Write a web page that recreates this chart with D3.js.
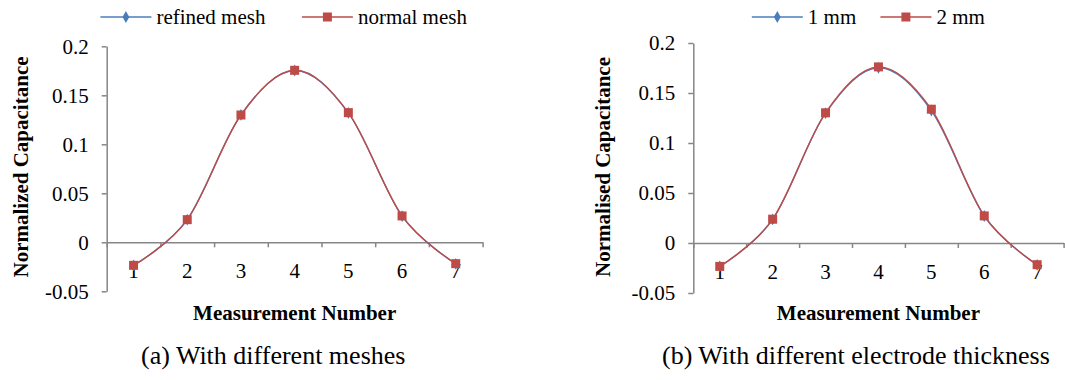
<!DOCTYPE html>
<html>
<head>
<meta charset="utf-8">
<script src="https://cdn.jsdelivr.net/npm/d3@7"></script>
<style>
  html, body { margin: 0; padding: 0; background: #fff; }
  svg { display: block; }
  text { font-family: "Liberation Serif", "Times New Roman", serif; fill: #000; }
</style>
</head>
<body>
<svg id="chart" width="1065" height="380"></svg>
<script>
// ---- data ----
const categories = ["1", "2", "3", "4", "5", "6", "7"];
const refinedMesh = [-0.0236, 0.0232, 0.1300, 0.1753, 0.1320, 0.0268, -0.0219];
const normalMesh  = [-0.0235, 0.0231, 0.1299, 0.1755, 0.1323, 0.0269, -0.0218];
const thickness1mm = [-0.0234, 0.0236, 0.1298, 0.1752, 0.1325, 0.0270, -0.0218];
const thickness2mm = [-0.0234, 0.0238, 0.1302, 0.1761, 0.1338, 0.0271, -0.0217];
const yTicks = [-0.05, 0, 0.05, 0.1, 0.15, 0.2];
const legendA = ["refined mesh", "normal mesh"];
const legendB = ["1 mm", "2 mm"];
const yTitles = ["Normalized Capacitance", "Normalised Capacitance"];
const xTitle = "Measurement Number";
const captions = ["(a) With different meshes", "(b) With different electrode thickness"];

const BLUE = "#4A7EBB", RED = "#BE4B48", AXIS = "#868686";
const svg = d3.select("#chart");

function panel(opt) {
  const g = svg.append("g");
  const x = d3.scaleBand().domain(categories).range(opt.xr);
  const y = d3.scaleLinear().domain([-0.05, 0.2]).range(opt.yr);
  const xt = d3.scaleLinear().domain([0, categories.length]).range(opt.xr);

  // y axis
  const ya = g.append("g").attr("transform", `translate(${opt.xr[0]},0)`)
    .call(d3.axisLeft(y).tickValues(yTicks).tickSize(5).tickSizeOuter(0).tickPadding(13)
      .tickFormat(d => String(d)));
  ya.selectAll("path, line").attr("stroke", AXIS).attr("stroke-width", 1.5);
  ya.selectAll("text").attr("font-size", 21).attr("font-family", "Liberation Serif").attr("fill", "#000");

  // x axis at zero
  const xa = g.append("g").attr("transform", `translate(0,${y(0)})`)
    .call(d3.axisBottom(xt).tickValues(d3.range(0, categories.length + 1)).tickSize(5).tickSizeOuter(0).tickFormat(""));
  xa.selectAll("path, line").attr("stroke", AXIS).attr("stroke-width", 1.5);
  const xl = g.append("g").attr("transform", `translate(0,${y(0)})`)
    .call(d3.axisBottom(x).tickSize(0).tickPadding(21));
  xl.select(".domain").remove();
  xl.selectAll("text").attr("font-size", 21).attr("font-family", "Liberation Serif").attr("fill", "#000");

  // lines
  const line = d3.line().x((d, i) => x(categories[i]) + x.bandwidth() / 2).y(d => y(d))
    .curve(d3.curveCatmullRom.alpha(0));
  g.append("path").datum(opt.s1).attr("d", line).attr("fill", "none").attr("stroke", BLUE).attr("stroke-width", 1.4);
  g.append("path").datum(opt.s2).attr("d", line).attr("fill", "none").attr("stroke", RED).attr("stroke-width", 1.4);
  const dia = d3.symbol().type(d3.symbolDiamond).size(40);
  g.selectAll(".m1").data(opt.s1).join("path")
    .attr("transform", (d, i) => `translate(${x(categories[i]) + x.bandwidth() / 2},${y(d)})`)
    .attr("d", dia).attr("fill", BLUE);
  g.selectAll(".m2").data(opt.s2).join("rect")
    .attr("x", (d, i) => x(categories[i]) + x.bandwidth() / 2 - 4.5)
    .attr("y", d => y(d) - 4.5).attr("width", 9).attr("height", 9).attr("fill", RED);

  // titles
  g.append("text").attr("transform", `translate(${opt.ytx},${opt.yty}) rotate(-90)`)
    .attr("text-anchor", "middle").attr("dy", "0.35em").attr("font-size", 21).attr("font-weight", "bold")
    .text(opt.ytitle);
  g.append("text").attr("x", (opt.xr[0] + opt.xr[1]) / 2 + opt.xtdx).attr("y", 320)
    .attr("text-anchor", "middle").attr("font-size", 21).attr("font-weight", "bold").text(xTitle);

  // legend
  opt.leg.forEach((l, i) => {
    const lx = opt.legx[i];
    g.append("line").attr("x1", lx).attr("x2", lx + 51).attr("y1", 17).attr("y2", 17)
      .attr("stroke", i === 0 ? BLUE : RED).attr("stroke-width", 1.4);
    if (i === 0) g.append("path").attr("transform", `translate(${lx + 25.5},17)`).attr("d", dia).attr("fill", BLUE);
    else g.append("rect").attr("x", lx + 25.5 - 4.5).attr("y", 17 - 4.5).attr("width", 9).attr("height", 9).attr("fill", RED);
    g.append("text").attr("x", lx + 56).attr("y", 17).attr("dy", "0.35em").attr("font-size", 21).text(l);
  });

  g.append("text").attr("x", opt.capx).attr("y", 364).attr("font-size", 26).text(opt.caption);
}

panel({ xr: [106.7, 482.6], yr: [291.3, 46.3], s1: refinedMesh, s2: normalMesh,
  ytitle: yTitles[0], ytx: 21, yty: 167, xtdx: 0, leg: legendA, legx: [100.4, 301.9],
  caption: captions[0], capx: 141 });
panel({ xr: [693.3, 1063.6], yr: [293, 43], s1: thickness1mm, s2: thickness2mm,
  ytitle: yTitles[1], ytx: 602.5, yty: 167, xtdx: 0, leg: legendB, legx: [751.8, 880.4],
  caption: captions[1], capx: 662 });
</script>
</body>
</html>
